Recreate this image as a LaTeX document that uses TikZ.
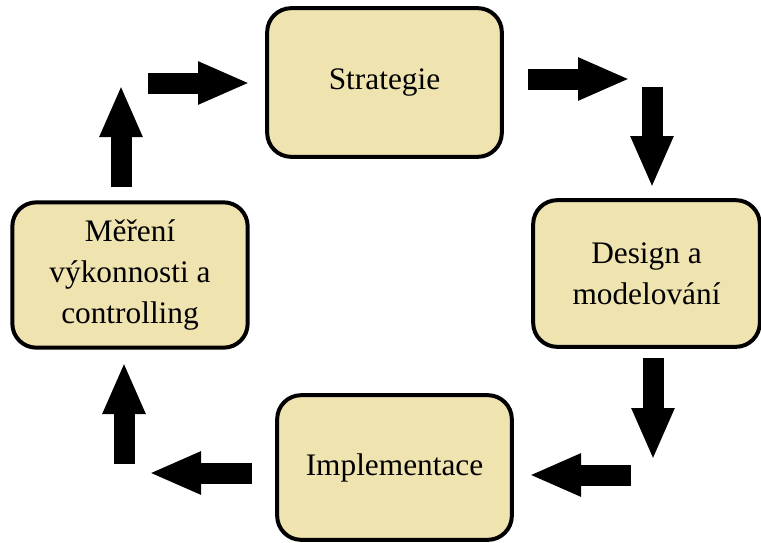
\documentclass[tikz,border=0pt]{standalone}
\usepackage{fontspec}
\setmainfont{Liberation Serif}
\usetikzlibrary{arrows.meta}
\definecolor{boxfill}{RGB}{239,227,176}
\tikzset{
  stagebox/.style={draw=black, fill=boxfill, line width=3pt, rounded corners=18pt,
    align=center, inner sep=0pt, font=\fontsize{23.5}{30.5}\selectfont},
  blockarrow/.style={draw=black, line width=15.75pt, line cap=butt,
    -{Triangle[length=39pt, width=29.5pt]}}
}
\begin{document}
\begin{tikzpicture}[x=0.75pt, y=-0.75pt]
\useasboundingbox (0,0) rectangle (761,543);
\node[stagebox, minimum width=176pt, minimum height=111.5pt] (strat) at (384.5,82.5) {Strategie};
\node[stagebox, minimum width=176.5pt, minimum height=109pt] (meas) at (130,275) {Měření\\výkonnosti a\\controlling};
\node[stagebox, minimum width=170pt, minimum height=110pt] (design) at (646.5,273.5) {Design a\\modelování};
\node[stagebox, minimum width=176pt, minimum height=108.5pt] (impl) at (394.5,467.5) {Implementace};
% arrow end points
\coordinate (a1s) at (148,83);  \coordinate (a1e) at (250,83);
\coordinate (a2s) at (528,79);  \coordinate (a2e) at (630,79);
\coordinate (a3s) at (652,87);  \coordinate (a3e) at (652,188);
\coordinate (a4s) at (653,358); \coordinate (a4e) at (653,460);
\coordinate (a5s) at (631,475); \coordinate (a5e) at (529,475);
\coordinate (a6s) at (252,473); \coordinate (a6e) at (149,473);
\coordinate (a7s) at (124,464); \coordinate (a7e) at (124,362);
\coordinate (a8s) at (121,187); \coordinate (a8e) at (121,85);
\draw[blockarrow] (a1s) -- (a1e);
\draw[blockarrow] (a2s) -- (a2e);
\draw[blockarrow] (a3s) -- (a3e);
\draw[blockarrow] (a4s) -- (a4e);
\draw[blockarrow] (a5s) -- (a5e);
\draw[blockarrow] (a6s) -- (a6e);
\draw[blockarrow] (a7s) -- (a7e);
\draw[blockarrow] (a8s) -- (a8e);
\end{tikzpicture}
\end{document}
